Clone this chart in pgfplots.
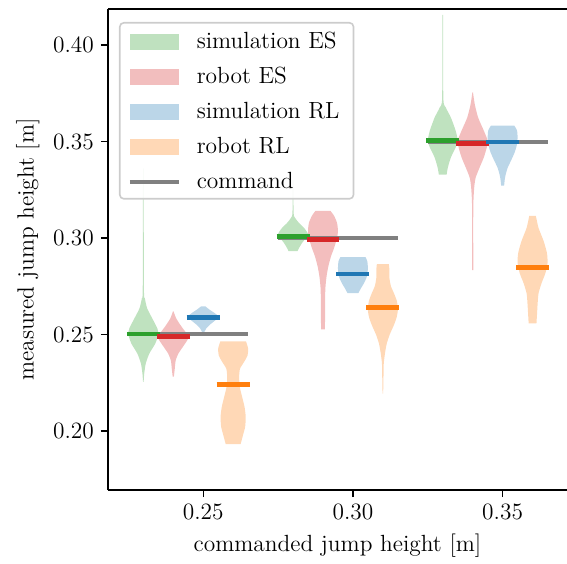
\documentclass[border=0pt]{standalone}
\usepackage{fontspec}
\usepackage{pgfplots}
\pgfplotsset{compat=1.18}
\usepgfplotslibrary{fillbetween}
\usepackage{pgfplotstable}

\definecolor{tabgreen}{HTML}{2CA02C}
\definecolor{tabred}{HTML}{D62728}
\definecolor{tabblue}{HTML}{1F77B4}
\definecolor{taborange}{HTML}{FF7F0E}
\definecolor{cmdgray}{HTML}{808080}

% violin outlines: y = measured height, w = half width (in x data units)
\pgfplotstableread{
y w
0.3360 0.0001
0.2740 0.0002
0.2688 0.0005
0.2635 0.0013
0.2583 0.0030
0.2531 0.0047
0.2500 0.0050
0.2453 0.0040
0.2401 0.0020
0.2349 0.0008
0.2297 0.0003
0.2255 0.0001
}\simESa
\pgfplotstableread{
y w
0.2620 0.0001
0.2583 0.0010
0.2542 0.0027
0.2500 0.0047
0.2479 0.0050
0.2438 0.0033
0.2401 0.0017
0.2365 0.0008
0.2323 0.0005
0.2281 0.0002
}\robESa
\pgfplotstableread{
y w
0.2646 0.0007
0.2630 0.0020
0.2609 0.0040
0.2594 0.0050
0.2573 0.0040
0.2552 0.0023
0.2531 0.0010
0.2510 0.0003
}\simRLa
\pgfplotstableread{
y w
0.2464 0.0043
0.2427 0.0050
0.2391 0.0048
0.2359 0.0037
0.2323 0.0023
0.2281 0.0020
0.2229 0.0022
0.2177 0.0030
0.2125 0.0038
0.2073 0.0042
0.2021 0.0040
0.1979 0.0033
0.1932 0.0025
}\robRLa
\pgfplotstableread{
y w
0.3300 0.0001
0.3130 0.0002
0.3104 0.0007
0.3078 0.0020
0.3052 0.0037
0.3021 0.0050
0.3000 0.0043
0.2974 0.0030
0.2948 0.0020
0.2932 0.0015
}\simESb
\pgfplotstableread{
y w
0.3141 0.0025
0.3115 0.0037
0.3078 0.0047
0.3037 0.0050
0.3000 0.0047
0.2948 0.0037
0.2906 0.0027
0.2854 0.0018
0.2802 0.0012
0.2740 0.0008
0.2662 0.0007
0.2583 0.0007
0.2526 0.0006
}\robESb
\pgfplotstableread{
y w
0.2901 0.0042
0.2880 0.0048
0.2844 0.0050
0.2802 0.0047
0.2766 0.0037
0.2740 0.0027
0.2714 0.0018
}\simRLb
\pgfplotstableread{
y w
0.2865 0.0020
0.2833 0.0022
0.2792 0.0022
0.2750 0.0027
0.2714 0.0037
0.2672 0.0047
0.2625 0.0050
0.2583 0.0045
0.2542 0.0035
0.2500 0.0023
0.2453 0.0013
0.2401 0.0007
0.2349 0.0003
0.2271 0.0002
0.2193 0.0001
}\robRLb
\pgfplotstableread{
y w
0.4156 0.0001
0.3729 0.0002
0.3677 0.0010
0.3625 0.0027
0.3557 0.0043
0.3505 0.0050
0.3469 0.0043
0.3417 0.0027
0.3365 0.0017
0.3328 0.0013
}\simESc
\pgfplotstableread{
y w
0.3755 0.0001
0.3693 0.0007
0.3625 0.0018
0.3557 0.0037
0.3505 0.0050
0.3469 0.0047
0.3417 0.0037
0.3365 0.0023
0.3313 0.0010
0.3260 0.0005
0.3156 0.0002
0.2833 0.0002
}\robESc
\pgfplotstableread{
y w
0.3583 0.0039
0.3557 0.0048
0.3521 0.0050
0.3479 0.0047
0.3443 0.0040
0.3401 0.0028
0.3365 0.0017
0.3328 0.0010
0.3302 0.0007
0.3271 0.0005
}\simRLc
\pgfplotstableread{
y w
0.3115 0.0011
0.3052 0.0020
0.2984 0.0037
0.2922 0.0048
0.2870 0.0050
0.2818 0.0043
0.2766 0.0030
0.2714 0.0020
0.2662 0.0017
0.2609 0.0015
0.2557 0.0013
}\robRLc

\newcommand{\violin}[4]{%
  \addplot[draw=none, forget plot, smooth, tension=0.4, name path=#1r] table[x expr={#2+\thisrow{w}}, y=y] {#3};
  \addplot[draw=none, forget plot, smooth, tension=0.4, name path=#1l] table[x expr={#2-\thisrow{w}}, y=y] {#3};
  \addplot[fill=#4, fill opacity=0.3, draw=none, forget plot] fill between[of=#1r and #1l, reverse=true];
}
\newcommand{\median}[3]{%
  \addplot[#3, line width=2.35pt, forget plot] coordinates {(#1-0.0055,#2) (#1+0.0055,#2)};
}

\begin{document}
\begin{tikzpicture}[font=\fontsize{11.7}{14}\selectfont]
\begin{axis}[
    scale only axis,
    width=229.5pt, height=240.5pt,
    xmin=0.2182, xmax=0.3715,
    ymin=0.1694, ymax=0.4187,
    axis x line*=box,
    axis y line*=left,
    axis line style={line width=0.8pt},
    tick align=outside,
    xtick pos=bottom, ytick pos=left,
    major tick length=3.5pt,
    tick style={line width=0.6pt, black},
    xtick={0.25,0.30,0.35},
    ytick={0.20,0.25,0.30,0.35,0.40},
    xticklabel style={/pgf/number format/.cd, fixed, fixed zerofill, precision=2, assume math mode=true},
    yticklabel style={/pgf/number format/.cd, fixed, fixed zerofill, precision=2, assume math mode=true},
    scaled ticks=false,
    xlabel={commanded jump height [m]},
    ylabel={measured jump height [m]},
    legend style={at={(axis description cs:0,1)}, anchor=north west,
        xshift=5.5pt, yshift=-6.5pt, draw=black!20, line width=0.8pt,
        rounded corners=2pt, fill=white, fill opacity=0.85, text opacity=1,
        inner xsep=4pt, inner ysep=5pt,
        row sep=9pt, column sep=5pt,
        nodes={inner xsep=3pt, inner ysep=0pt, text height=8pt, text depth=0pt}},
    legend cell align=left,
]
\addlegendimage{legend image code/.code={\fill[draw=none, sharp corners, tabgreen, fill opacity=0.3] (0pt,-4.5pt) rectangle (24.5pt,3.5pt);}}
\addlegendentry{simulation ES}
\addlegendimage{legend image code/.code={\fill[draw=none, sharp corners, tabred, fill opacity=0.3] (0pt,-4.5pt) rectangle (24.5pt,3.5pt);}}
\addlegendentry{robot ES}
\addlegendimage{legend image code/.code={\fill[draw=none, sharp corners, tabblue, fill opacity=0.3] (0pt,-4.5pt) rectangle (24.5pt,3.5pt);}}
\addlegendentry{simulation RL}
\addlegendimage{legend image code/.code={\fill[draw=none, sharp corners, taborange, fill opacity=0.3] (0pt,-4.5pt) rectangle (24.5pt,3.5pt);}}
\addlegendentry{robot RL}
\addlegendimage{legend image code/.code={\draw[sharp corners, cmdgray, line width=2pt, draw opacity=1] (0pt,-0.5pt) -- (24.5pt,-0.5pt);}}
\addlegendentry{command}

\violin{ga}{0.23}{\simESa}{tabgreen}
\violin{ra}{0.24}{\robESa}{tabred}
\violin{ba}{0.25}{\simRLa}{tabblue}
\violin{oa}{0.26}{\robRLa}{taborange}
\violin{gb}{0.28}{\simESb}{tabgreen}
\violin{rb}{0.29}{\robESb}{tabred}
\violin{bb}{0.30}{\simRLb}{tabblue}
\violin{ob}{0.31}{\robRLb}{taborange}
\violin{gc}{0.33}{\simESc}{tabgreen}
\violin{rc}{0.34}{\robESc}{tabred}
\violin{bc}{0.35}{\simRLc}{tabblue}
\violin{oc}{0.36}{\robRLc}{taborange}

% commanded heights
\addplot[cmdgray, line width=2pt, forget plot] coordinates {(0.225,0.25) (0.265,0.25)};
\addplot[cmdgray, line width=2pt, forget plot] coordinates {(0.275,0.30) (0.315,0.30)};
\addplot[cmdgray, line width=2pt, forget plot] coordinates {(0.325,0.35) (0.365,0.35)};

% medians
\median{0.23}{0.2502}{tabgreen}
\median{0.24}{0.2488}{tabred}
\median{0.25}{0.2587}{tabblue}
\median{0.26}{0.2239}{taborange}
\median{0.28}{0.3009}{tabgreen}
\median{0.29}{0.2991}{tabred}
\median{0.30}{0.2813}{tabblue}
\median{0.31}{0.2639}{taborange}
\median{0.33}{0.3507}{tabgreen}
\median{0.34}{0.3491}{tabred}
\median{0.35}{0.3498}{tabblue}
\median{0.36}{0.2849}{taborange}
\end{axis}
\pgfresetboundingbox
\path ([xshift=-54pt,yshift=-36.5pt]current axis.south west) rectangle ([yshift=4.5pt]current axis.north east);
\end{tikzpicture}
\end{document}
